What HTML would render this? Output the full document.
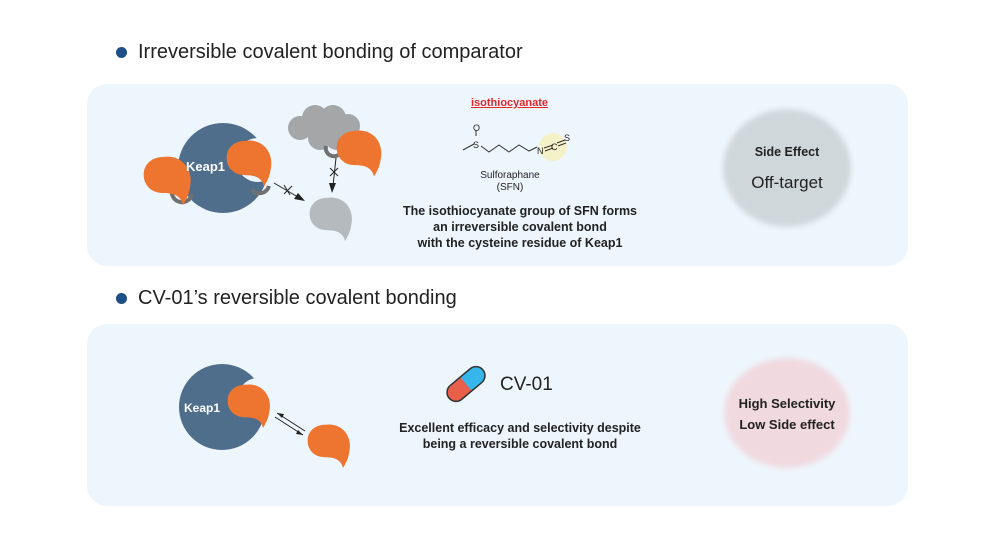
<!DOCTYPE html>
<html><head><meta charset="utf-8"><style>
body{margin:0;width:996px;height:560px;background:#fff;position:relative;overflow:hidden;font-family:"Liberation Sans",sans-serif;}
.t{position:absolute;white-space:nowrap;color:#222;}
.panel{position:absolute;left:87px;width:821px;height:182px;background:#eef6fd;border-radius:20px;}
.dot{position:absolute;width:11px;height:11px;border-radius:50%;background:#1e4f86;}
.c{text-align:center;}
</style></head><body>
<div class="dot" style="left:116px;top:47px"></div>
<div class="t" style="left:138px;top:41px;font-size:20px;color:#222">Irreversible covalent bonding of comparator</div>
<div class="panel" style="top:84px"></div>
<div class="dot" style="left:116px;top:293px"></div>
<div class="t" style="left:138px;top:287px;font-size:20px;color:#222">CV-01’s reversible covalent bonding</div>
<div class="panel" style="top:324px"></div>

<svg width="996" height="560" style="position:absolute;left:0;top:0">
<defs>
<path id="drop" d="M0,-18 C18,-21 31,-6 27,12 C26,20 23,25 20,30 C18,21 11,18 0,18 C-14,18 -21,7 -19,-4 C-17,-13 -9,-18 0,-18Z"/>
<filter id="bl"><feGaussianBlur stdDeviation="3"/></filter>
</defs>
<!-- top Keap1 -->
<circle cx="223" cy="168" r="45" fill="#4e6e8c"/>
<circle cx="258" cy="160" r="22" fill="#eef6fd"/>
<path d="M172,190 a10,10 0 0 0 20,4" stroke="#707070" stroke-width="4" fill="none"/>
<path d="M252,190 a10,10 0 0 0 17,-4" stroke="#707070" stroke-width="4" fill="none"/>
<use href="#drop" fill="#ee7530" transform="translate(163,175) scale(1.0)"/>
<use href="#drop" fill="#ee7530" transform="translate(245,158) scale(0.95)"/>
<text x="186" y="171" font-family="Liberation Sans" font-weight="bold" font-size="13" fill="#fff">Keap1</text>
<!-- cloud -->
<g fill="#a4a6a8">
<circle cx="300" cy="128" r="12"/><circle cx="315" cy="118" r="13"/><circle cx="333" cy="118" r="13"/><circle cx="348" cy="126" r="12"/><circle cx="320" cy="138" r="12"/><circle cx="337" cy="138" r="12"/>
</g>
<path d="M326,146 a8,8 0 0 0 16,4" stroke="#707070" stroke-width="4" fill="none"/>
<use href="#drop" fill="#ee7530" transform="translate(355,148) scale(0.95)"/>
<use href="#drop" fill="#b4babd" transform="translate(327,214) scale(0.9)"/>
<line x1="274" y1="183" x2="298" y2="197" stroke="#222" stroke-width="1"/>
<polygon points="305,201 294,199 298,193" fill="#222"/>
<path d="M284,185 l6,10 M292,186 l-8,8" stroke="#222"/>
<line x1="336" y1="158" x2="333" y2="186" stroke="#222"/>
<polygon points="332,193 329,183 336,183" fill="#222"/>
<path d="M330,168 l8,8 M338,168 l-8,8" stroke="#222"/>
<!-- molecule -->
<circle cx="553" cy="147" r="14" fill="#f4f0c8"/>
<g stroke="#333" stroke-width="1" fill="none">
<polyline points="463,150 474,144"/>
<line x1="476" y1="136" x2="476" y2="130"/>
<polyline points="481,146 489,152 499,145 509,152 519,145 529,151 537,147"/>
<line x1="544" y1="148" x2="553" y2="145"/><line x1="545" y1="151" x2="553" y2="148"/>
<line x1="557" y1="143" x2="565" y2="140"/><line x1="558" y1="146" x2="566" y2="143"/>
</g>
<g font-family="Liberation Sans" font-size="9" fill="#222">
<text x="473" y="131">O</text><text x="473" y="148">S</text><text x="537" y="154">N</text><text x="551" y="150">C</text><text x="564" y="141">S</text>
</g>
<!-- ellipses -->
<ellipse cx="787" cy="168" rx="64" ry="59" fill="#d0d7db" filter="url(#bl)"/>
<ellipse cx="787" cy="413" rx="63" ry="55" fill="#f0d9df" filter="url(#bl)"/>
<!-- bottom Keap1 -->
<circle cx="222" cy="407" r="43" fill="#4e6e8c"/>
<circle cx="258" cy="398" r="20" fill="#eef6fd"/>
<use href="#drop" fill="#ee7530" transform="translate(245,401) scale(0.9)"/>
<text x="184" y="412" font-family="Liberation Sans" font-weight="bold" font-size="12" fill="#fff">Keap1</text>
<use href="#drop" fill="#ee7530" transform="translate(325,441) scale(0.9)"/>
<line x1="277" y1="413" x2="305" y2="431" stroke="#222"/>
<line x1="275" y1="417" x2="303" y2="435" stroke="#222"/>
<polygon points="277,413 284,414 282,418" fill="#222"/>
<polygon points="303,435 296,434 298,430" fill="#222"/>
<!-- pill -->
<g transform="translate(466,384) rotate(-40)">
<rect x="-22" y="-9" width="44" height="18" rx="9" fill="#e9604a"/>
<path d="M0,-9 h13 a9,9 0 0 1 0,18 h-13z" fill="#36b6ea"/>
<rect x="-22" y="-9" width="44" height="18" rx="9" fill="none" stroke="#333" stroke-width="1.5"/>
</g>
</svg>

<div class="t" style="left:471px;top:97px;font-size:11px;font-weight:bold;color:#e3262b;text-decoration:underline">isothiocyanate</div>
<div class="t c" style="left:470px;top:170px;width:80px;font-size:10px;line-height:12px">Sulforaphane<br>(SFN)</div>
<div class="t c" style="left:370px;top:203px;width:300px;font-size:12.5px;font-weight:bold;line-height:16px">The isothiocyanate group of SFN forms<br>an irreversible covalent bond<br>with the cysteine residue of Keap1</div>
<div class="t c" style="left:737px;top:145px;width:100px;font-size:12.5px;font-weight:bold">Side Effect</div>
<div class="t c" style="left:737px;top:173px;width:100px;font-size:17px">Off-target</div>
<div class="t" style="left:500px;top:374px;font-size:19px">CV-01</div>
<div class="t c" style="left:360px;top:420px;width:320px;font-size:12.5px;font-weight:bold;line-height:16px">Excellent efficacy and selectivity despite<br>being a reversible covalent bond</div>
<div class="t c" style="left:722px;top:393px;width:130px;font-size:13px;font-weight:bold;line-height:21px">High Selectivity<br>Low Side effect</div>
</body></html>
